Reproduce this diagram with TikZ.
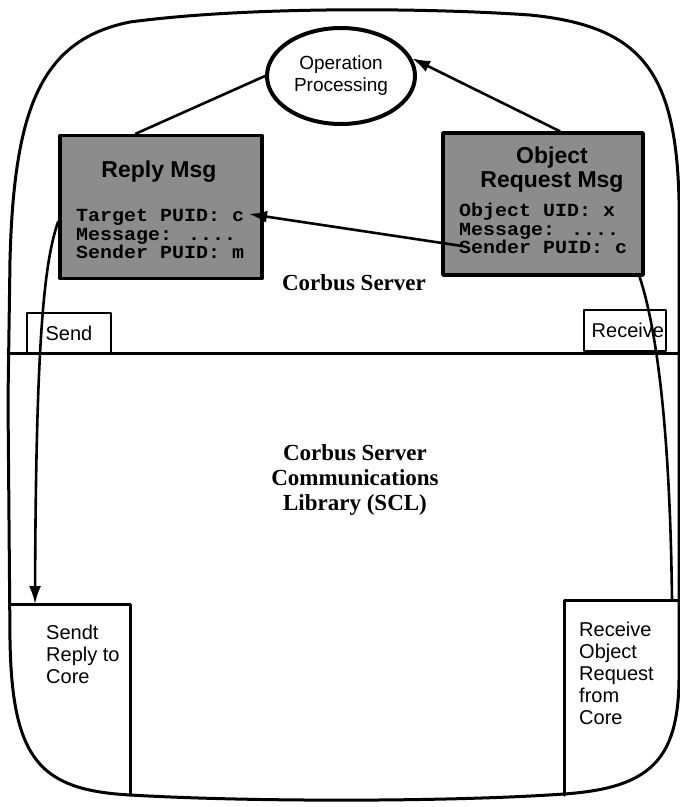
\documentclass[tikz,border=0pt]{standalone}
\usepackage{fontspec}
\setmainfont{Liberation Serif}
\setsansfont{Liberation Sans}
\setmonofont{Liberation Mono}
\newfontfamily\fieldfont[FakeStretch=1.08]{Liberation Mono}
\usetikzlibrary{arrows.meta,positioning,shapes.geometric}

\begin{document}
\begin{tikzpicture}[x=1pt,y=-1pt,line cap=round,line join=round,
  outline/.style={line width=3pt},
  msgbox/.style={draw,line width=3.6pt,fill=black!45,inner sep=0pt},
  msgtitle/.style={font=\sffamily\bfseries\fontsize{23}{24}\selectfont,align=center,inner sep=0pt},
  msgfield/.style={font=\fieldfont\bfseries\fontsize{18.5}{18.5}\selectfont,align=left,inner sep=0pt,anchor=north west},
  portbox/.style={draw,line width=2.8pt,font=\sffamily\fontsize{20}{22}\selectfont,inner sep=0pt},
  corelabel/.style={font=\sffamily\fontsize{20}{22}\selectfont,align=left,inner sep=0pt,anchor=north west},
  serverlabel/.style={font=\bfseries\fontsize{23}{25}\selectfont,align=center,inner sep=0pt},
  flow/.style={line width=2.6pt},
  msgarrow/.style={-{Latex[length=18pt,width=12pt]}}]
\path[use as bounding box] (0,0) rectangle (680,807);
% outer border of the server
\draw[outline] (8,400) -- (10,260) .. controls (14,110) and (40,40) .. (130,22)
  .. controls (250,6) and (430,8) .. (530,15) .. controls (640,26) and (676,70) .. (679,200)
  -- (679,680) .. controls (678,760) and (650,788) .. (564,794)
  .. controls (450,802) and (250,802) .. (130,795) .. controls (40,790) and (12,760) .. (10,640) -- cycle;
\draw[outline] (8,353) -- (680,353);
% operation and messages
\node[draw,ellipse,line width=4pt,minimum width=148pt,minimum height=96pt,inner sep=0pt,
  font=\sffamily\fontsize{19}{22}\selectfont,align=center] (opproc) at (341,76) {Operation\\Processing};
\node[msgbox,minimum width=202pt,minimum height=143pt] (replymsg) at (161,207) {};
\node[msgbox,minimum width=200pt,minimum height=142pt] (objreq) at (543,204) {};
\node[msgtitle] (replytitle) at (159,172) {Reply Msg};
\node[msgtitle] (objtitle) at (552,170) {Object\\Request Msg};
\node[msgfield] (replyfields) at (76,209) {Target PUID: c\\Message: ....\\Sender PUID: m};
\node[msgfield] (objfields) at (459,203) {Object UID: x\\Message: ....\\Sender PUID: c};
\coordinate (srcpuid) at (462,246);
\coordinate (tgtpuid) at (249,214);
% ports and labels
\node[portbox,minimum width=84pt,minimum height=40pt] (sendport) at (69,333) {Send};
\node[portbox,minimum width=82pt,minimum height=41pt,text width=78pt,align=right] (recvport) at (625,330.5) {Receive};
\node[serverlabel] (serverlbl) at (354,283) {Corbus Server};
\node[serverlabel,anchor=north] (scllbl) at (355,444) {Corbus Server\\Communications\\Library (SCL)};
% core side
\draw[outline] (11,604) -- (130,604) -- (130,795);
\draw[outline] (679,600) -- (564,600) -- (564,795);
\coordinate (sendcore) at (35,604);
\coordinate (recvcore) at (672,600);
\node[corelabel] (sendtxt) at (46,625) {Sendt\\Reply to\\Core};
\node[corelabel] (recvtxt) at (579,622) {Receive\\Object\\Request\\from\\Core};
% flows
\draw[flow] (replymsg.109) -- (opproc.west);
\draw[flow,msgarrow] (objreq.77) -- (opproc.14);
\draw[flow,msgarrow] (srcpuid) -- (tgtpuid);
\draw[flow,msgarrow] (replymsg.188) .. controls (44,262) and (36,340) .. (sendcore);
\draw[flow] (objreq.-37) .. controls (657,330) and (670,430) .. (recvcore);
\end{tikzpicture}
\end{document}
